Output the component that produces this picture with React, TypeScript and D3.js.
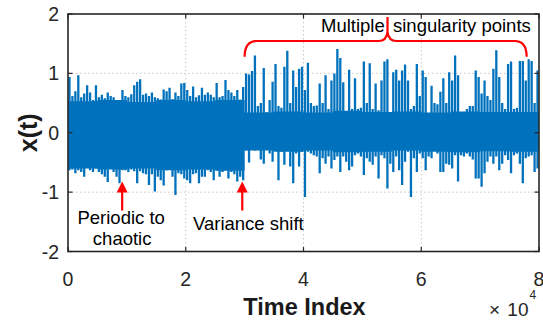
import React from 'react';
import * as d3 from 'd3';

const W = 543;
const H = 320;

const xTickValues = [0, 2, 4, 6, 8];
const yTickValues = [-2, -1, 0, 1, 2];
const xExponentBase = '10';
const xExponent = '4';

// time index spacing of the envelope bins (samples)
const binSize = 500;

// upper reach of the signal in each bin of 500 samples
const peakHi = [
  0.94, 0.62, 0.7, 0.97, 0.6, 0.66, 0.8, 0.68, 0.55, 0.8,
  0.6, 0.64, 0.58, 0.68, 0.62, 0.6, 0.55, 0.5, 0.72, 0.62,
  0.6, 0.65, 0.8, 0.86, 0.9, 0.64, 0.66, 0.62, 0.68, 0.6,
  0.58, 0.56, 0.73, 0.7, 0.76, 0.57, 0.68, 0.62, 0.83, 0.84,
  0.72, 0.62, 0.78, 0.6, 0.63, 0.76, 0.64, 0.68, 0.64, 0.6,
  0.84, 0.6, 0.62, 0.89, 0.72, 0.68, 0.62, 0.72, 0.56, 0.77,
  1.0, 0.98, 1.04, 1.3, 0.45, 0.5, 1.09, 0.35, 0.55, 0.86,
  1.16, 0.45, 0.42, 1.11, 1.38, 0.5, 1.05, 0.77, 1.08, 1.11,
  0.72, 1.18, 0.5, 0.45, 0.46, 0.83, 0.5, 0.97, 0.4, 0.88,
  1.0, 1.41, 1.26, 0.85, 0.3, 1.06, 0.4, 0.92, 0.4, 0.42,
  1.2, 0.5, 1.17, 0.4, 0.83, 0.38, 0.88, 1.2, 1.24, 0.35,
  1.02, 1.06, 0.88, 1.05, 1.15, 0.88, 0.4, 0.45, 1.16, 0.62,
  1.05, 0.94, 0.3, 0.79, 0.5, 0.48, 0.69, 0.92, 0.5, 1.02,
  0.88, 1.3, 0.97, 0.3, 0.35, 0.4, 0.45, 0.45, 1.05, 0.94,
  0.66, 0.88, 0.62, 0.55, 1.08, 1.39, 0.94, 0.5, 0.4, 1.16,
  1.2, 0.4, 0.42, 1.21, 1.21, 0.88, 1.24, 1.21, 0.5, 1.05,
];

// lower reach of the signal in each bin
const peakLo = [
  -0.63, -0.62, -0.68, -0.63, -0.66, -0.74, -0.56, -0.63, -0.66, -0.6,
  -0.66, -0.7, -0.74, -0.83, -0.6, -0.66, -0.74, -0.85, -0.63, -0.63,
  -0.66, -0.62, -0.65, -0.85, -0.65, -0.68, -0.7, -0.88, -0.7, -0.99,
  -0.74, -0.8, -0.89, -0.63, -0.6, -0.74, -1.05, -0.68, -0.7, -0.77,
  -0.8, -0.85, -0.7, -0.68, -0.85, -0.74, -0.74, -0.63, -0.66, -0.8,
  -0.63, -0.74, -0.66, -0.6, -0.77, -0.66, -0.7, -0.82, -0.74, -0.8,
  -0.3, -0.5, -0.29, -0.3, -0.29, -0.45, -0.52, -0.29, -0.35, -0.49,
  -0.3, -0.8, -0.32, -0.54, -0.26, -0.57, -0.85, -0.35, -0.57, -0.32,
  -1.08, -0.32, -0.35, -0.38, -0.4, -0.68, -0.43, -0.52, -0.4, -0.6,
  -0.46, -0.4, -0.66, -0.4, -0.49, -0.63, -0.57, -0.38, -0.35, -0.4,
  -0.71, -0.43, -0.49, -0.54, -0.4, -0.77, -0.38, -0.43, -0.94, -0.52,
  -0.66, -0.4, -0.63, -0.88, -0.49, -0.32, -1.08, -0.43, -0.66, -0.35,
  -0.43, -0.63, -0.4, -0.43, -0.29, -0.35, -0.66, -0.66, -0.52, -0.54,
  -0.6, -0.38, -0.82, -0.38, -0.4, -0.35, -0.4, -0.45, -0.77, -0.77,
  -0.91, -0.68, -0.49, -0.4, -0.52, -0.4, -0.63, -0.52, -0.38, -0.46,
  -0.68, -0.38, -0.35, -0.52, -0.85, -0.43, -0.4, -0.38, -0.66, -0.6,
];

// dense core of the signal, every 5000 samples
const coreT = [0, 5000, 10000, 15000, 20000, 25000, 30000, 35000, 40000, 45000, 50000, 55000, 60000, 65000, 70000, 75000, 80000];
const coreHi = [0.53, 0.55, 0.52, 0.55, 0.53, 0.55, 0.34, 0.36, 0.34, 0.37, 0.35, 0.36, 0.34, 0.36, 0.35, 0.35, 0.35];
const coreLo = [-0.6, -0.62, -0.6, -0.63, -0.62, -0.64, -0.3, -0.32, -0.3, -0.33, -0.32, -0.3, -0.32, -0.33, -0.31, -0.32, -0.32];

// annotations (data coordinates)
const arrowTimes = [9200, 29600];
const arrowTipY = -0.82;
const arrowTailY = -1.31;

const FONT = "'Liberation Sans', Arial, Helvetica, sans-serif";
const BLUE = '#0072BD';
const RED = '#FF0000';
const AX = '#262626';

export default function App() {
  const left = 68, right = 539, top = 14, bottom = 251.5;
  const x = d3.scaleLinear().domain([0, 80000]).range([left, right]);
  const y = d3.scaleLinear().domain([-2, 2]).range([bottom, top]);

  const coreArea = d3.area<number>()
    .x((_, i) => x(coreT[i]))
    .y0((_, i) => y(coreLo[i]))
    .y1((d) => y(d))
    .curve(d3.curveStepAfter)(coreHi) || '';

  const bins = peakHi.map((h, i) => ({ t: binSize / 2 + i * binSize, hi: h, lo: peakLo[i] }));

  // brace geometry
  const bl = x(30000), br = x(77900), bm = x(54270);
  const bLow = y(1.28), bH = y(1.545), bTip = y(1.95), bNeck = y(1.7);
  const bracePath = [
    `M${bl},${bLow} Q${bl},${bH} ${bl + 12},${bH} L${bm - 9},${bH} Q${bm - 1},${bH} ${bm},${bNeck} L${bm},${bTip}`,
    `M${bm},${bNeck} Q${bm + 1},${bH} ${bm + 9},${bH} L${br - 12},${bH} Q${br},${bH} ${br},${bLow}`,
  ].join(' ');

  return (
    <svg width={W} height={H} style={{ position: 'absolute', left: 0, top: 0, background: '#fff' }} fontFamily={FONT}>
      <defs>
        <clipPath id="plotclip">
          <rect x={left} y={top} width={right - left} height={bottom - top} />
        </clipPath>
      </defs>
      {/* grid */}
      <g stroke="#c8c8c8" strokeWidth={1} strokeDasharray="1.5,2.5">
        {xTickValues.slice(1, -1).map((v) => (
          <line key={'gx' + v} x1={x(v * 1e4)} x2={x(v * 1e4)} y1={top} y2={bottom} />
        ))}
        {yTickValues.slice(1, -1).map((v) => (
          <line key={'gy' + v} x1={left} x2={right} y1={y(v)} y2={y(v)} />
        ))}
      </g>
      {/* signal */}
      <g clipPath="url(#plotclip)">
        <path d={coreArea} fill={BLUE} />
        {bins.map((b, i) => (
          <line key={i} x1={x(b.t)} x2={x(b.t)} y1={y(b.lo)} y2={y(b.hi)} stroke={BLUE} strokeWidth={2.3} />
        ))}
      </g>
      {/* axes box */}
      <rect x={left} y={top} width={right - left} height={bottom - top} fill="none" stroke={AX} strokeWidth={1.6} />
      {/* ticks */}
      <g stroke={AX} strokeWidth={1.2}>
        {xTickValues.map((v) => (
          <g key={'tx' + v}>
            <line x1={x(v * 1e4)} x2={x(v * 1e4)} y1={bottom} y2={bottom - 4.5} />
            <line x1={x(v * 1e4)} x2={x(v * 1e4)} y1={top} y2={top + 4.5} />
          </g>
        ))}
        {yTickValues.map((v) => (
          <g key={'ty' + v}>
            <line x1={left} x2={left + 4.5} y1={y(v)} y2={y(v)} />
            <line x1={right} x2={right - 4.5} y1={y(v)} y2={y(v)} />
          </g>
        ))}
      </g>
      {/* tick labels */}
      <g fontSize={19.5} fill={AX}>
        {xTickValues.map((v) => (
          <text key={'lx' + v} x={x(v * 1e4)} y={285.5} textAnchor="middle">{v}</text>
        ))}
        {yTickValues.map((v) => (
          <text key={'ly' + v} x={59} y={y(v) + 7} textAnchor="end">{v}</text>
        ))}
        <text x={489} y={315.5} fontSize={19}>{'\u00d7'}</text>
        <text x={528.5} y={315.5} fontSize={19} textAnchor="end">{xExponentBase}</text>
        <text x={529.5} y={299} fontSize={12}>{xExponent}</text>
      </g>
      {/* axis labels */}
      <text x={(left + right) / 2 + 1} y={315} textAnchor="middle" fontSize={23.5} fontWeight="bold" fill="#1a1a1a">Time Index</text>
      <text transform={`translate(37,${y(0)}) rotate(-90)`} textAnchor="middle" fontSize={25} fontWeight="bold" fill="#1a1a1a">x(t)</text>
      {/* annotations */}
      <path d={bracePath} fill="none" stroke={RED} strokeWidth={2.2} />
      <text x={321} y={31.5} fontSize={18.5} fill="#000">Multiple</text>
      <text x={393} y={31.5} fontSize={18.5} fill="#000">singularity points</text>
      {arrowTimes.map((t) => (
        <g key={'ar' + t}>
          <line x1={x(t)} x2={x(t)} y1={y(arrowTailY)} y2={y(arrowTipY) + 8} stroke={RED} strokeWidth={2.2} />
          <path d={`M${x(t)},${y(arrowTipY)} L${x(t) - 5.5},${y(arrowTipY) + 11} L${x(t) + 5.5},${y(arrowTipY) + 11} Z`} fill={RED} />
        </g>
      ))}
      <text x={x(arrowTimes[0]) - 1} y={224} textAnchor="middle" fontSize={18.5} fill="#000">Periodic to</text>
      <text x={x(arrowTimes[0])} y={245} textAnchor="middle" fontSize={18.5} fill="#000">chaotic</text>
      <text x={193} y={230} fontSize={18.5} fill="#000">Variance shift</text>
    </svg>
  );
}
